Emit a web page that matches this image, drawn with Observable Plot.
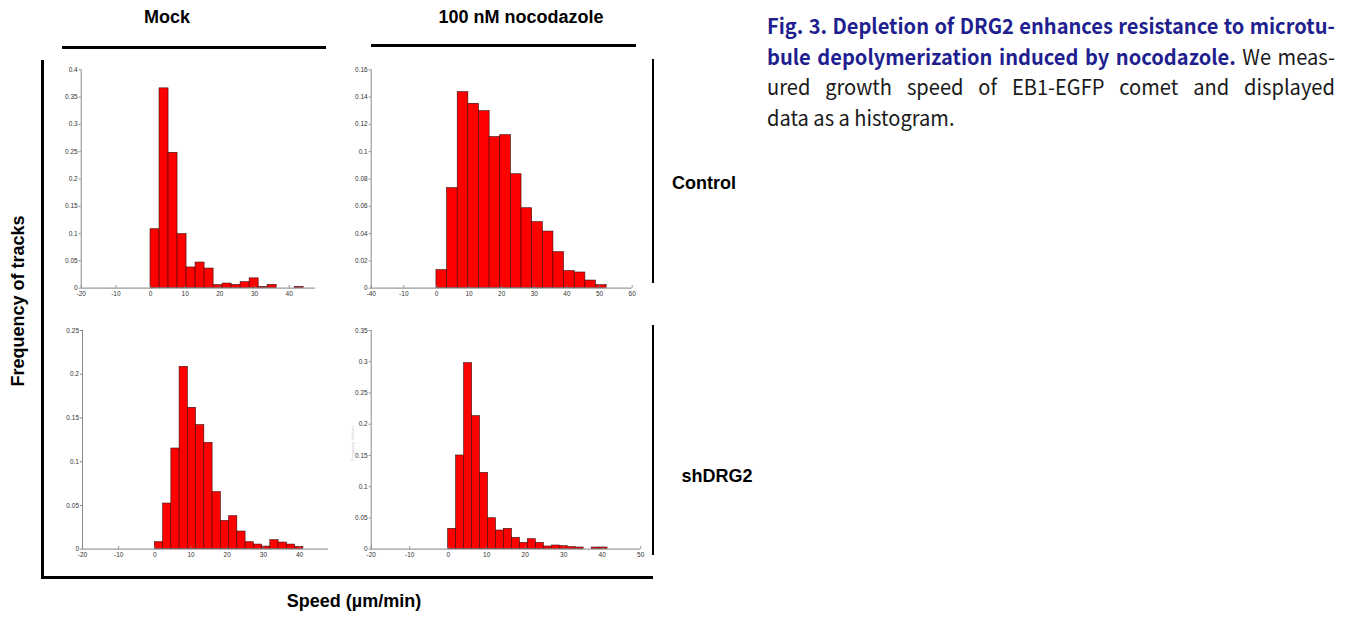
<!DOCTYPE html>
<html><head><meta charset="utf-8">
<script src="https://cdn.jsdelivr.net/npm/d3@7"></script>
<script src="https://cdn.jsdelivr.net/npm/@observablehq/plot@0.6"></script>
<style>
body{margin:0;background:#fff;width:1352px;height:617px;position:relative;overflow:hidden;font-family:"Liberation Sans",Arial,sans-serif;}
.lbl{position:absolute;font-weight:bold;font-size:18px;color:#000;white-space:nowrap;transform:translate(-50%,-50%);line-height:1;}
.hl{position:absolute;background:#000;}
.pnl{position:absolute;}
#caption{position:absolute;left:767px;top:10px;width:594px;transform:scaleX(0.956);transform-origin:0 0;font-family:"Noto Sans CJK KR","Noto Sans",sans-serif;font-size:21px;line-height:30.6px;color:#1a1a1a;}
#caption .ln{display:block;text-align:justify;text-align-last:justify;}
#caption .last{display:block;text-align:left;}
#caption .hd{color:#1f1f8f;font-weight:bold;}
</style></head>
<body>
<div class="lbl" style="left:167px;top:17px;">Mock</div>
<div class="lbl" style="left:521px;top:17px;">100 nM nocodazole</div>
<div class="hl" style="left:62px;top:45.5px;width:264px;height:3px;"></div>
<div class="hl" style="left:371px;top:44px;width:265px;height:3px;"></div>
<div class="hl" style="left:40.5px;top:60px;width:3px;height:519px;"></div>
<div class="hl" style="left:40.5px;top:575.5px;width:612px;height:3px;"></div>
<div class="hl" style="left:652px;top:59px;width:2px;height:224px;"></div>
<div class="hl" style="left:652px;top:325px;width:2px;height:230px;"></div>
<div class="lbl" style="left:18px;top:301px;transform:translate(-50%,-50%) rotate(-90deg);">Frequency of tracks</div>
<div class="lbl" style="left:354px;top:601px;">Speed (µm/min)</div>
<div class="lbl" style="left:704px;top:183px;">Control</div>
<div class="lbl" style="left:717px;top:476px;">shDRG2</div>
<div class="lbl" style="left:352.5px;top:443px;transform:translate(-50%,-50%) rotate(-90deg);font-size:4px;font-weight:normal;color:#c8c8c8;">Frequency of tracks</div>
<div id="caption"><span class="ln"><span class="hd">Fig. 3. Depletion of DRG2 enhances resistance to microtu-</span></span><span class="ln"><span class="hd">bule depolymerization induced by nocodazole.</span> We meas-</span><span class="ln">ured growth speed of EB1-EGFP comet and displayed</span><span class="last">data as a histogram.</span></div>
<div id="p1" class="pnl" style="left:55px;top:60px;"></div>
<div id="p2" class="pnl" style="left:330px;top:60px;"></div>
<div id="p3" class="pnl" style="left:55px;top:320px;"></div>
<div id="p4" class="pnl" style="left:330px;top:320px;"></div>
<script>
// ---- data (relative frequency per speed bin, bins start at 0 µm/min) ----
const freqMockControl = [0.108,0.366,0.248,0.099,0.038,0.047,0.036,0.0055,0.0085,0.006,0.011,0.018,0.0024,0.006,0,0,0.0024];
const binWidthMockControl = 2.6;
const freqNocControl = [0.0132,0.0733,0.1436,0.1351,0.1297,0.1107,0.1121,0.0835,0.0586,0.0484,0.0415,0.0264,0.0125,0.0115,0.0056,0.0022];
const binWidthNocControl = 3.26;
const freqMockShDRG2 = [0.008,0.0522,0.1151,0.2085,0.1616,0.1418,0.1216,0.0652,0.0324,0.0377,0.0202,0.008,0.0053,0.003,0.0103,0.0076,0.0053,0.0027];
const binWidthMockShDRG2 = 2.28;
const freqNocShDRG2 = [0.0326,0.15,0.2978,0.2129,0.1222,0.0496,0.0299,0.0326,0.0181,0.0101,0.016,0.0101,0.0043,0.0059,0.0048,0.0032,0.0027,0,0.0027,0.0027];
const binWidthNocShDRG2 = 2.07;

// ---- ticks ----
const xTicks1 = [-20,-10,0,10,20,30,40];
const xLabels1 = ["-20","-10","0","10","20","30","40"];
const xTicks2 = [-20,-10,0,10,20,30,40,50,60];
const xLabels2 = ["-40","-10","0","10","20","30","40","50","60"];
const xTicks3 = [-20,-10,0,10,20,30,40];
const xLabels3 = ["-20","-10","0","10","20","30","40"];
const xTicks4 = [-20,-10,0,10,20,30,40,50];
const xLabels4 = ["-20","-10","0","10","20","30","40","50"];
const yTicks1 = [0,0.05,0.1,0.15,0.2,0.25,0.3,0.35,0.4];
const yTicks2 = [0,0.02,0.04,0.06,0.08,0.1,0.12,0.14,0.16];
const yTicks3 = [0,0.05,0.1,0.15,0.2,0.25];
const yTicks4 = [0,0.05,0.1,0.15,0.2,0.25,0.3,0.35];

function panel(el, {freq, binWidth, xDomain, xTicks, xLabels, yTicks, width, height, mL, mR, mT, mB}) {
  const bins = freq.map((f, i) => ({x1: i * binWidth, x2: (i + 1) * binWidth, f}));
  const yMax = yTicks[yTicks.length - 1];
  const chart = Plot.plot({
    width, height, marginLeft: mL, marginRight: mR, marginTop: mT, marginBottom: mB,
    style: {background: "transparent", fontFamily: "Liberation Sans, Arial, sans-serif", fontSize: "6.5px", color: "#333", overflow: "visible"},
    x: {domain: xDomain, label: null},
    y: {domain: [0, yMax], label: null},
    marks: [
      Plot.ruleX([xDomain[0]], {stroke: "#8a8a8a", strokeWidth: 1}),
      Plot.rect(bins.filter(d => d.f > 0), {x1: "x1", x2: "x2", y1: 0, y2: "f", fill: "#ff0000", stroke: "#3a0a0a", strokeWidth: 0.6}),
      Plot.ruleY([0], {stroke: "#9a9a9a", strokeWidth: 1.2}),
      Plot.ruleX(xTicks, {y1: 0, y2: yMax * 0.012, stroke: "#777", strokeWidth: 0.8}),
      Plot.axisX(xTicks, {label: null, tickSize: 0, tickPadding: 3, tickFormat: d => xLabels[xTicks.indexOf(d)], fill: "#333"}),
      Plot.axisY(yTicks, {label: null, tickSize: 2, tickPadding: 1.5, stroke: "#888", fill: "#333", tickFormat: d => d3.format("~g")(d)})
    ]
  });
  document.getElementById(el).appendChild(chart);
}

panel("p1", {freq: freqMockControl, binWidth: binWidthMockControl, xDomain: [-20, 47.6], xTicks: xTicks1, xLabels: xLabels1, yTicks: yTicks1, width: 270, height: 240, mL: 25.7, mR: 10, mT: 9.3, mB: 12.3});
panel("p2", {freq: freqNocControl, binWidth: binWidthNocControl, xDomain: [-20, 60], xTicks: xTicks2, xLabels: xLabels2, yTicks: yTicks2, width: 310, height: 240, mL: 40.7, mR: 8.3, mT: 9.3, mB: 12.3});
panel("p3", {freq: freqMockShDRG2, binWidth: binWidthMockShDRG2, xDomain: [-20, 48], xTicks: xTicks3, xLabels: xLabels3, yTicks: yTicks3, width: 280, height: 245, mL: 27, mR: 7, mT: 10, mB: 16.3});
panel("p4", {freq: freqNocShDRG2, binWidth: binWidthNocShDRG2, xDomain: [-20, 50], xTicks: xTicks4, xLabels: xLabels4, yTicks: yTicks4, width: 320, height: 245, mL: 40.7, mR: 9.8, mT: 10, mB: 16.3});
</script>
</body></html>
